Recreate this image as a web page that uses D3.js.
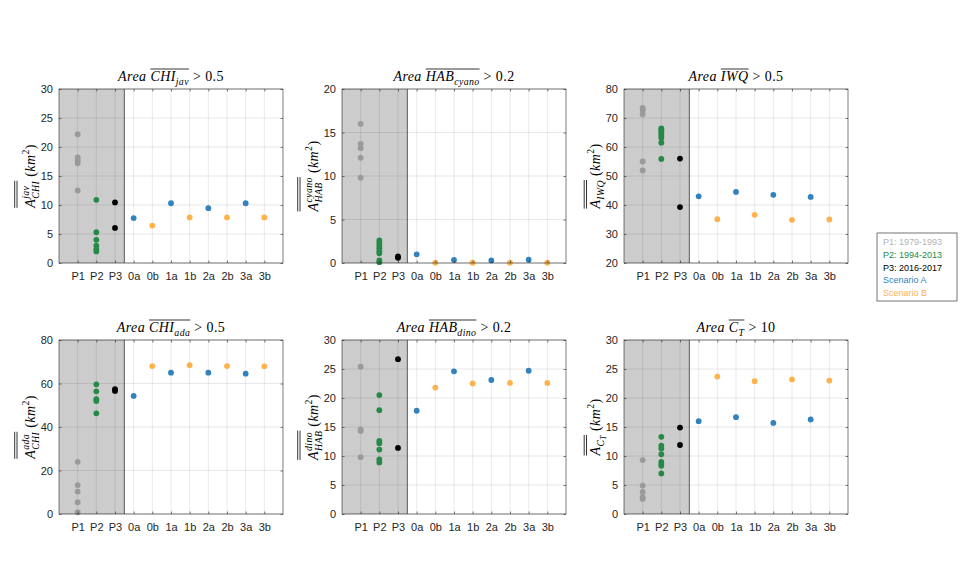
<!DOCTYPE html>
<html><head><meta charset="utf-8">
<script src="https://cdn.jsdelivr.net/npm/d3@7"></script>
<style>
body{margin:0;background:#fff;}
svg{display:block;}
text{font-family:"Liberation Sans",Arial,sans-serif;}
.math text{font-family:"Liberation Serif","Times New Roman",serif;fill:#000;letter-spacing:0.4px;}
</style></head>
<body><svg id="chart" width="979" height="587"></svg>
<script>
// ---------- data ----------
const categories = ["P1","P2","P3","0a","0b","1a","1b","2a","2b","3a","3b"];
const scenarioACats = ["0a","1a","2a","3a"];
const scenarioBCats = ["0b","1b","2b","3b"];
const legendLabels = ["P1: 1979-1993","P2: 1994-2013","P3: 2016-2017","Scenario A","Scenario B"];

// panel 1: CHI jav
const chiJavP1 = [22.2,18.2,17.7,17.2,12.5];
const chiJavP2 = [10.9,5.3,4.0,3.0,2.4,2.0];
const chiJavP3 = [10.45,6.05];
const chiJavA  = [7.75,10.3,9.45,10.3];
const chiJavB  = [6.45,7.85,7.85,7.85];
const chiJavTicks = [0,5,10,15,20,25,30];
// panel 2: HAB cyano
const habCyanoP1 = [16.0,13.7,13.2,12.1,9.8];
const habCyanoP2 = [2.6,2.3,2.0,1.7,1.35,1.1,0.3,0.1];
const habCyanoP3 = [0.75,0.6];
const habCyanoA  = [1.0,0.35,0.3,0.38];
const habCyanoB  = [0.03,0.03,0.03,0.03];
const habCyanoTicks = [0,5,10,15,20];
// panel 3: IWQ
const iwqP1 = [73.5,72.8,71.3,55.0,51.9];
const iwqP2 = [66.4,66.0,65.4,64.6,63.8,63.1,61.5,55.9];
const iwqP3 = [56.0,39.3];
const iwqA  = [43.0,44.5,43.5,42.8];
const iwqB  = [35.1,36.6,34.9,35.0];
const iwqTicks = [20,30,40,50,60,70,80];
// panel 4: CHI ada
const chiAdaP1 = [24.0,13.3,10.3,5.4,0.8];
const chiAdaP2 = [59.6,56.4,52.8,52.0,46.3];
const chiAdaP3 = [57.4,56.6];
const chiAdaA  = [54.3,65.0,65.0,64.5];
const chiAdaB  = [68.0,68.4,68.0,67.9];
const chiAdaTicks = [0,20,40,60,80];
// panel 5: HAB dino
const habDinoP1 = [25.4,14.6,14.3,9.8];
const habDinoP2 = [20.5,17.9,12.6,12.2,11.1,9.4,8.9];
const habDinoP3 = [26.7,11.4];
const habDinoA  = [17.8,24.6,23.1,24.7];
const habDinoB  = [21.8,22.5,22.6,22.6];
const habDinoTicks = [0,5,10,15,20,25,30];
// panel 6: C_T
const ctP1 = [9.3,4.9,3.8,2.9,2.6];
const ctP2 = [13.3,11.8,11.3,10.3,9.0,8.6,8.3,7.0];
const ctP3 = [14.9,11.9];
const ctA  = [16.0,16.7,15.7,16.3];
const ctB  = [23.7,22.9,23.2,23.0];
const ctTicks = [0,5,10,15,20,25,30];

// ---------- styles ----------
const colors = {P1:"#9a9a9a",P2:"#268a47",P3:"#000000",A:"#3182bd",B:"#feb24c"};
const legendColors = ["#b4b4b4","#268a47","#000000","#3182bd","#feb24c"];

const panels = [
  {p1:chiJavP1,p2:chiJavP2,p3:chiJavP3,a:chiJavA,b:chiJavB,ticks:chiJavTicks,
   title:[{t:"Area",it:1,sp:4},{t:"CHI",it:1,ov:1},{t:"jav",it:1,lvl:-1,ov:1,sp:4},{t:">",sp:4},{t:"0.5"}],
   ylab:[{t:"A",it:1,ov:1},{stack:["CHI","jav"],ov:1,sp:4},{t:"(",it:0},{t:"km",it:1},{t:"2",lvl:1},{t:")"}], sup:true},
  {p1:habCyanoP1,p2:habCyanoP2,p3:habCyanoP3,a:habCyanoA,b:habCyanoB,ticks:habCyanoTicks,
   title:[{t:"Area",it:1,sp:4},{t:"HAB",it:1,ov:1},{t:"cyano",it:1,lvl:-1,ov:1,sp:4},{t:">",sp:4},{t:"0.2"}],
   ylab:[{t:"A",it:1,ov:1},{stack:["HAB","cyano"],ov:1,sp:4},{t:"("},{t:"km",it:1},{t:"2",lvl:1},{t:")"}], sup:true},
  {p1:iwqP1,p2:iwqP2,p3:iwqP3,a:iwqA,b:iwqB,ticks:iwqTicks,
   title:[{t:"Area",it:1,sp:4},{t:"IWQ",it:1,ov:1,sp:4},{t:">",sp:4},{t:"0.5"}],
   ylab:[{t:"A",it:1,ov:1},{t:"IWQ",it:1,lvl:-1,ov:1,sp:4},{t:"("},{t:"km",it:1},{t:"2",lvl:1},{t:")"}], sup:false},
  {p1:chiAdaP1,p2:chiAdaP2,p3:chiAdaP3,a:chiAdaA,b:chiAdaB,ticks:chiAdaTicks,
   title:[{t:"Area",it:1,sp:4},{t:"CHI",it:1,ov:1},{t:"ada",it:1,lvl:-1,ov:1,sp:4},{t:">",sp:4},{t:"0.5"}],
   ylab:[{t:"A",it:1,ov:1},{stack:["CHI","ada"],ov:1,sp:4},{t:"("},{t:"km",it:1},{t:"2",lvl:1},{t:")"}], sup:true},
  {p1:habDinoP1,p2:habDinoP2,p3:habDinoP3,a:habDinoA,b:habDinoB,ticks:habDinoTicks,
   title:[{t:"Area",it:1,sp:4},{t:"HAB",it:1,ov:1},{t:"dino",it:1,lvl:-1,ov:1,sp:4},{t:">",sp:4},{t:"0.2"}],
   ylab:[{t:"A",it:1,ov:1},{stack:["HAB","dino"],ov:1,sp:4},{t:"("},{t:"km",it:1},{t:"2",lvl:1},{t:")"}], sup:true},
  {p1:ctP1,p2:ctP2,p3:ctP3,a:ctA,b:ctB,ticks:ctTicks,
   title:[{t:"Area",it:1,sp:4},{t:"C",it:1,ov:1},{t:"T",it:1,lvl:-1,ov:1,sp:4},{t:">",sp:4},{t:"10"}],
   ylab:[{t:"A",it:1,ov:1},{t:"C",it:1,lvl:-1,ov:1},{t:"T",it:1,lvl:-2,ov:1,sp:4},{t:"("},{t:"km",it:1},{t:"2",lvl:1},{t:")"}], sup:false}
];

const svg = d3.select("#chart");
svg.append("rect").attr("width",979).attr("height",587).attr("fill","#fff");

const lefts = [59,342,624], tops = [89,340], pw = 224, ph = 174;

function renderMath(parent, items, fs, ovY, ovN){
  const g = parent.append("g").attr("class","math");
  let x = 0, ox0 = null, ox1 = null;
  items.forEach(it=>{
    let w;
    if(it.stack){
      const s1 = g.append("text").attr("x",x).attr("y",0.3*fs).style("font-size",(0.7*fs)+"px").style("font-style","italic").text(it.stack[0]);
      const s2 = g.append("text").attr("x",x).attr("y",-0.45*fs).style("font-size",(0.7*fs)+"px").style("font-style","italic").text(it.stack[1]);
      w = Math.max(s1.node().getComputedTextLength(), s2.node().getComputedTextLength());
    } else {
      const lvl = it.lvl||0;
      const size = lvl===0?fs:(lvl===-2?0.55*fs:0.7*fs);
      const y = lvl===-1?0.25*fs:(lvl===-2?0.42*fs:(lvl===1?-0.42*fs:0));
      const t = g.append("text").attr("x",x).attr("y",y).style("font-size",size+"px")
        .style("font-style",it.it?"italic":"normal").text(it.t);
      w = t.node().getComputedTextLength();
    }
    if(it.ov){ if(ox0===null) ox0 = x; ox1 = x + w; }
    x += w + (it.sp||0);
  });
  for(let i=0;i<ovN;i++){
    g.append("line").attr("x1",ox0).attr("x2",ox1).attr("y1",ovY - i*2.3).attr("y2",ovY - i*2.3)
      .attr("stroke","#000").attr("stroke-width",0.8);
  }
  g.attr("transform",`translate(${-x/2},0)`);
  return g;
}

panels.forEach((p,i)=>{
  const left = lefts[i%3], top = tops[Math.floor(i/3)];
  const g = svg.append("g").attr("transform",`translate(${left},${top})`);
  const x = d3.scaleLinear().domain([0,categories.length+1]).range([0,pw]);
  const y = d3.scaleLinear().domain([p.ticks[0],p.ticks[p.ticks.length-1]]).range([ph,0]);
  const xc = c => x(categories.indexOf(c)+1);

  // shaded historical region
  g.append("rect").attr("x",x(0)).attr("y",0).attr("width",x(3.5)-x(0)).attr("height",ph).attr("fill","#cccccc");
  // grid
  g.selectAll(".vg").data(categories).enter().append("line")
    .attr("x1",d=>xc(d)).attr("x2",d=>xc(d)).attr("y1",0).attr("y2",ph)
    .attr("stroke","rgba(0,0,0,0.11)").attr("stroke-width",0.8);
  g.selectAll(".hg").data(p.ticks).enter().append("line")
    .attr("x1",0).attr("x2",pw).attr("y1",d=>y(d)).attr("y2",d=>y(d))
    .attr("stroke","rgba(0,0,0,0.11)").attr("stroke-width",0.8);
  // divider
  g.append("line").attr("x1",x(3.5)).attr("x2",x(3.5)).attr("y1",0).attr("y2",ph)
    .attr("stroke","#4a4a4a").attr("stroke-width",0.9);

  // points
  const pts = [];
  p.p1.forEach(v=>pts.push({c:"P1",v,col:colors.P1}));
  p.p2.forEach(v=>pts.push({c:"P2",v,col:colors.P2}));
  p.p3.forEach(v=>pts.push({c:"P3",v,col:colors.P3}));
  p.a.forEach((v,k)=>pts.push({c:scenarioACats[k],v,col:colors.A}));
  p.b.forEach((v,k)=>pts.push({c:scenarioBCats[k],v,col:colors.B}));
  g.selectAll(".pt").data(pts).enter().append("circle")
    .attr("cx",d=>xc(d.c)).attr("cy",d=>y(d.v)).attr("r",2.9).attr("fill",d=>d.col);

  // axes
  const axB = g.append("g").attr("transform",`translate(0,${ph})`)
    .call(d3.axisBottom(x).tickValues(d3.range(1,categories.length+1)).tickFormat(d=>categories[d-1]).tickSizeInner(-2.5).tickSizeOuter(0).tickPadding(9));
  const axL = g.append("g")
    .call(d3.axisLeft(y).tickValues(p.ticks).tickSizeInner(-2.5).tickSizeOuter(0).tickPadding(6));
  const axT = g.append("g").call(d3.axisTop(x).tickValues(d3.range(1,categories.length+1)).tickFormat("").tickSizeInner(-2.5).tickSizeOuter(0));
  const axR = g.append("g").attr("transform",`translate(${pw},0)`).call(d3.axisRight(y).tickValues(p.ticks).tickFormat("").tickSizeInner(-2.5).tickSizeOuter(0));
  [axB,axL,axT,axR].forEach(a=>{
    a.select(".domain").remove();
    a.selectAll(".tick line").attr("stroke","#262626").attr("stroke-width",0.6);
    a.selectAll("text").attr("fill","#262626").style("font-size","11px").style("font-family","'Liberation Sans',Arial,sans-serif");
  });
  axB.selectAll("text").attr("dy","0.71em");
  // box
  g.append("rect").attr("x",0).attr("y",0).attr("width",pw).attr("height",ph)
    .attr("fill","none").attr("stroke","#262626").attr("stroke-width",0.6);

  // title
  const tg = g.append("g").attr("transform",`translate(${pw/2},-8)`);
  renderMath(tg, p.title, 14, -12, 1);
  // y label
  const lg = g.append("g").attr("transform",`translate(-24,${ph/2}) rotate(-90)`);
  renderMath(lg, p.ylab, 14, p.sup?-18:-13.5, 2);
});

// legend
const lgd = svg.append("g").attr("transform","translate(877,233)");
lgd.append("rect").attr("width",80).attr("height",68).attr("fill","#fff").attr("stroke","#3a3a3a").attr("stroke-width",0.7);
lgd.selectAll(".lt").data(legendLabels).enter().append("text")
  .attr("x",6).attr("y",(d,i)=>12+i*12.8).attr("fill",(d,i)=>legendColors[i])
  .style("font-size","9px").text(d=>d);
</script>
</body></html>
